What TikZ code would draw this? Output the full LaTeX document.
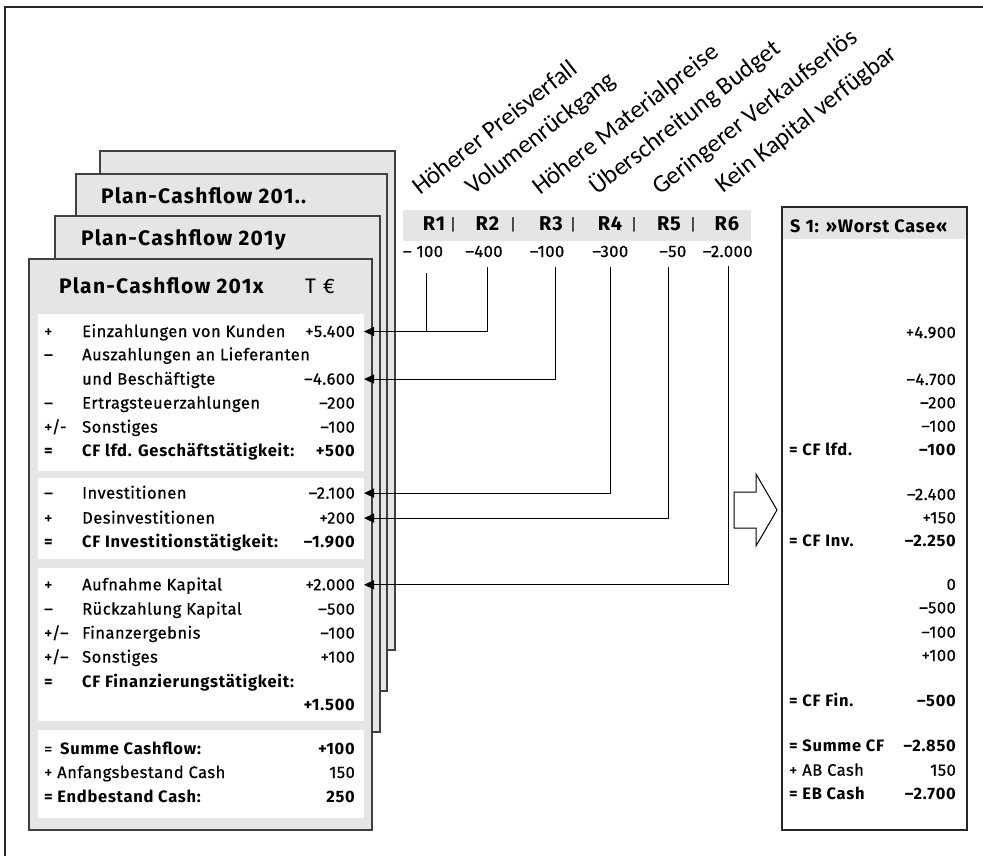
\documentclass[tikz,border=0pt]{standalone}
\usepackage{fontspec}
\setmainfont{Fira Sans}
\newfontfamily\mainf{Fira Sans}[LetterSpace=3,FakeBold=0.6]
\newfontfamily\boldf{Fira Sans}[LetterSpace=4.5]
\newfontfamily\ttlf{Fira Sans}[LetterSpace=6]
\newfontfamily\calib{Carlito}
\usetikzlibrary{arrows.meta}
\tikzset{
  card/.style={draw=black!75, line width=1.4pt, fill=black!10},
  pnl/.style={fill=white, draw=none},
  lt/.style={font=\mainf\fontsize{16.5}{18}\selectfont, inner sep=0pt, anchor=base west},
  lv/.style={lt, anchor=base east},
  lb/.style={font=\boldf\fontsize{16.5}{18}\selectfont\bfseries, inner sep=0pt, anchor=base west},
  lbv/.style={lb, anchor=base east},
  ttl/.style={font=\ttlf\fontsize{21}{24}\selectfont\bfseries, inner sep=0pt, anchor=base west},
  rlab/.style={font=\boldf\fontsize{20}{22}\selectfont\bfseries, inner sep=0pt, anchor=base},
  rsep/.style={font=\fontsize{16}{18}\selectfont, inner sep=0pt, anchor=center},
  rval/.style={font=\mainf\fontsize{16.5}{18}\selectfont, inner sep=0pt, anchor=base},
  rot/.style={font=\calib\fontsize{25}{29}\selectfont, inner sep=0pt, anchor=base west, rotate=38},
  con/.style={line width=1pt, black},
  arr/.style={con, -{Triangle[length=10pt,width=9pt]}},
}
\begin{document}
\begin{tikzpicture}[x=1pt,y=-1pt]
\useasboundingbox (0,0) rectangle (983,856);
% outer frame
\draw[line width=1.3pt, black!85] (5,856) -- (5,7) -- (983,7);

% stacked cards
\draw[card] (100,151) rectangle (395,650);
\draw[card] (76,174) rectangle (387,691);
\draw[card] (55,216) rectangle (380,732);
\draw[card] (29,259) rectangle (372,830);

\node[ttl] (h3) at (101,204) {Plan-Cashflow 201..};
\node[ttl] (h2) at (81,245) {Plan-Cashflow 201y};
\node[ttl] (h1) at (59,293) {Plan-Cashflow 201x};
\node[font=\ttlf\fontsize{21}{24}\selectfont, inner sep=0pt, anchor=base west] (unit) at (305,293) {T €};

% white panels
\fill[pnl] (38,314) rectangle (364,471);
\fill[pnl] (38,478) rectangle (364,559);
\fill[pnl] (38,568) rectangle (364,721);
\fill[pnl] (38,730) rectangle (364,818);

% panel 1
\node[lt] (s1) at (44,337) {+};
\node[lt] (l1) at (82,337) {Einzahlungen von Kunden};
\node[lv] (e1) at (355,337) {+5.400};
\node[lt] (s2) at (44,360.3) {–};
\node[lt] (l2) at (82,360.3) {Auszahlungen an Lieferanten};
\node[lt] (l3) at (82,384.6) {und Beschäftigte};
\node[lv] (e3) at (355,384.6) {–4.600};
\node[lt] (s4) at (44,408.6) {–};
\node[lt] (l4) at (82,408.6) {Ertragsteuerzahlungen};
\node[lv] (e4) at (355,408.6) {–200};
\node[lt] (s5) at (44,432.6) {+/-};
\node[lt] (l5) at (82,432.6) {Sonstiges};
\node[lv] (e5) at (355,432.6) {–100};
\node[lb] (s6) at (44,456) {=};
\node[lb] (l6) at (82,456) {CF lfd. Geschäftstätigkeit:};
\node[lbv] (e6) at (355,456) {+500};
% panel 2
\node[lt] (s7) at (44,498.6) {–};
\node[lt] (l7) at (82,498.6) {Investitionen};
\node[lv] (e7) at (355,498.6) {–2.100};
\node[lt] (s8) at (44,523.6) {+};
\node[lt] (l8) at (82,523.6) {Desinvestitionen};
\node[lv] (e8) at (355,523.6) {+200};
\node[lb] (s9) at (44,547) {=};
\node[lb] (l9) at (82,547) {CF Investitionstätigkeit:};
\node[lbv] (e9) at (355,547) {–1.900};
% panel 3
\node[lt] (s10) at (44,590.3) {+};
\node[lt] (l10) at (82,590.3) {Aufnahme Kapital};
\node[lv] (e10) at (355,590.3) {+2.000};
\node[lt] (s11) at (44,614.6) {–};
\node[lt] (l11) at (82,614.6) {Rückzahlung Kapital};
\node[lv] (e11) at (355,614.6) {–500};
\node[lt] (s12) at (44,638.6) {+/–};
\node[lt] (l12) at (82,638.6) {Finanzergebnis};
\node[lv] (e12) at (355,638.6) {–100};
\node[lt] (s13) at (44,662.6) {+/–};
\node[lt] (l13) at (82,662.6) {Sonstiges};
\node[lv] (e13) at (355,662.6) {+100};
\node[lb] (s14) at (44,687) {=};
\node[lb] (l14) at (82,687) {CF Finanzierungstätigkeit:};
\node[lbv] (e14) at (355,710.3) {+1.500};
% panel 4
\node[lt] (s15) at (44,754.6) {=};
\node[lb] (l15) at (60,754.6) {Summe Cashflow:};
\node[lbv] (e15) at (355,754.6) {+100};
\node[lt] (l16) at (44,778) {+ Anfangsbestand Cash};
\node[lv] (e16) at (355,778) {150};
\node[lb] (l17) at (44,802) {= Endbestand Cash:};
\node[lbv] (e17) at (355,802) {250};

% risk labels (rotated)
\node[rot] (k1) at (420,196) {Höherer Preisverfall};
\node[rot] (k2) at (473,196) {Volumenrückgang};
\node[rot] (k3) at (540,196) {Höhere Materialpreise};
\node[rot] (k4) at (597,196) {Überschreitung Budget};
\node[rot] (k5) at (660,196) {Geringerer Verkaufserlös};
\node[rot] (k6) at (723,194) {Kein Kapital verfügbar};

% R strip
\node[fill=black!10, minimum width=348pt, minimum height=30.7pt, inner sep=0pt, anchor=north west] (strip) at (402.7,210) {};
\node[rlab] (r1) at (434,230) {R1};
\node[rlab] (r2) at (487.5,230) {R2};
\node[rlab] (r3) at (551,230) {R3};
\node[rlab] (r4) at (610,230) {R4};
\node[rlab] (r5) at (669,230) {R5};
\node[rlab] (r6) at (727,230) {R6};
\node[rsep] (p1) at (453,224.5) {|};
\node[rsep] (p2) at (513,224.5) {|};
\node[rsep] (p3) at (573,224.5) {|};
\node[rsep] (p4) at (634,224.5) {|};
\node[rsep] (p5) at (693,224.5) {|};

\node[rval] (v1) at (423,257) {– 100};
\node[rval] (v2) at (484,257) {–400};
\node[rval] (v3) at (547,257) {–100};
\node[rval] (v4) at (610.3,257) {–300};
\node[rval] (v5) at (672.8,257) {–50};
\node[rval] (v6) at (727.7,257) {–2.000};

% connectors
\coordinate (c1) at (426.5,273);
\coordinate (c2) at (487.5,267);
\coordinate (c3) at (555.5,267);
\coordinate (c4) at (610.5,267);
\coordinate (c5) at (668.5,267);
\coordinate (c6) at (728.5,266);
\coordinate (t1) at ([xshift=9pt]e1.east);
\coordinate (t3) at ([xshift=9pt]e3.east);
\coordinate (t7) at ([xshift=9pt]e7.east);
\coordinate (t8) at ([xshift=9pt]e8.east);
\coordinate (t10) at ([xshift=9pt]e10.east);
\draw[con] (c1) -- (c1 |- t1);
\draw[arr] (c2) |- (t1);
\draw[arr] (c3) |- (t3);
\draw[arr] (c4) |- (t7);
\draw[arr] (c5) |- (t8);
\draw[arr] (c6) |- (t10);

% block arrow
\draw[line width=1pt, fill=white] (734,492) -- (756,492) -- (756,474) -- (777,510) -- (756,546) -- (756,528) -- (734,528) -- cycle;

% right box
\draw[line width=1.3pt, black!85, fill=white] (782,207) rectangle (967,830);
\fill[black!10] (782.7,207.7) rectangle (966.3,239);
\node[font=\boldf\fontsize{18}{20}\selectfont\bfseries, inner sep=0pt, anchor=base west] (w0) at (790,233) {S 1: »Worst Case«};
\node[lv] (w1) at (956,338) {+4.900};
\node[lv] (w2) at (956,385) {–4.700};
\node[lv] (w3) at (956,408.3) {–200};
\node[lv] (w4) at (956,431.7) {–100};
\node[lb] (x5) at (789,455) {= CF lfd.};
\node[lbv] (w5) at (956,455) {–100};
\node[lv] (w6) at (956,500) {–2.400};
\node[lv] (w7) at (956,523.3) {+150};
\node[lb] (x8) at (789,546.7) {= CF Inv.};
\node[lbv] (w8) at (956,546.7) {–2.250};
\node[lv] (w9) at (956,590) {0};
\node[lv] (w10) at (956,613.3) {–500};
\node[lv] (w11) at (956,637.7) {–100};
\node[lv] (w12) at (956,661) {+100};
\node[lb] (x13) at (789,706.7) {= CF Fin.};
\node[lbv] (w13) at (956,706.7) {–500};
\node[lb] (x14) at (789,751.7) {= Summe CF};
\node[lbv] (w14) at (956,751.7) {–2.850};
\node[lt] (x15) at (789,775.7) {+ AB Cash};
\node[lv] (w15) at (956,775.7) {150};
\node[lb] (x16) at (789,799) {= EB Cash};
\node[lbv] (w16) at (956,799) {–2.700};
\end{tikzpicture}
\end{document}
